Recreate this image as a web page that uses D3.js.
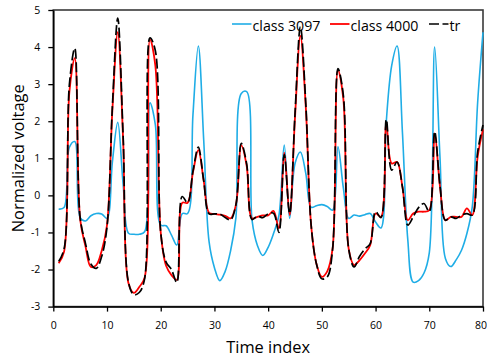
<!DOCTYPE html>
<html>
<head>
<meta charset="utf-8">
<script src="https://cdn.jsdelivr.net/npm/d3@7"></script>
<style>
  html, body { margin: 0; padding: 0; background: #fff; }
  svg { display: block; font-family: "Open Sans", sans-serif; }
</style>
</head>
<body>
<svg id="chart" width="487" height="358"></svg>
<script>
// ---- data ----
const timeIndex = d3.range(1, 81);
const seriesNames = ["class 3097", "class 4000", "tr"];
const class3097 = [
  -0.37, -0.33, 1.3, 1.45, -0.6, -0.69, -0.55, -0.49, -0.5, -0.62,
  0.9, 1.97, 0.3, -1.02, -1.05, -1.05, -0.98, 2.5, 1.9, -0.8,
  -0.82, -1.07, -1.34, -0.49, -0.49, 2.17, 4.03, 1.5, -1.25, -1.95,
  -2.3, -2.05, -1.5, -0.6, 2.75, 2.8, -0.67, -1.35, -1.62, -1.4,
  -1.03, -0.55, 1.36, -0.62, 0.86, 1.17, 0.6, -0.32, -0.28, -0.25,
  -0.3, -0.4, 1.31, 0.2, -0.62, -0.53, -0.56, -0.52, -0.49, -0.72,
  -0.88, 2.0, 3.5, 4.03, 1.7, -1.2, -2.34, -2.3, -2.1, -1.55,
  4.0, 1.0, -1.7, -1.92, -1.74, -1.48, -1.03, -0.31, 2.5, 4.4
];
const class4000 = [
  -1.83, -1.52, 2.8, 3.7, -0.65, -1.38, -1.93, -1.88, -1.5, -0.8,
  2.3, 4.4, 1.5, -2.37, -2.63, -2.47, -2.22, 4.2, 3.5, -1.0,
  -1.9, -2.15, -2.28, -0.2, -0.2, 0.62, 1.22, 0.4, -0.47, -0.5,
  -0.52, -0.55, -0.62, -0.26, 1.35, 0.8, -0.62, -0.58, -0.54, -0.54,
  -0.42, -0.89, 1.15, -0.53, 2.1, 4.3, 2.4, -0.8, -1.85, -2.2,
  -2.05, -1.43, 3.38, 2.6, -1.45, -1.88, -1.75, -1.57, -1.34, -0.49,
  -0.58, 1.94, 0.86, 0.9, 0.23, -0.67, -0.49, -0.44, -0.44, -0.4,
  1.67, 0.23, -0.67, -0.58, -0.58, -0.58, -0.35, -0.53, 1.04, 1.78
];
const tr = [
  -1.78, -1.45, 3.0, 3.97, -0.6, -1.3, -1.85, -1.97, -1.65, -0.85,
  2.4, 4.78, 1.6, -2.35, -2.68, -2.62, -2.25, 4.25, 3.9, -1.0,
  -1.8, -2.0, -2.35, -0.03, -0.2, 0.65, 1.3, 0.4, -0.5, -0.5,
  -0.5, -0.6, -0.66, -0.25, 1.4, 0.85, -0.65, -0.56, -0.6, -0.5,
  -0.48, -1.0, 1.1, -0.49, 2.2, 4.55, 2.5, -0.8, -1.85, -2.25,
  -2.2, -1.45, 3.42, 2.7, -1.45, -1.93, -1.65, -1.45, -1.3, -0.44,
  -0.6, 2.05, 0.68, 0.9, 0.23, -0.8, -0.58, -0.33, -0.22, -0.44,
  1.72, 0.25, -0.67, -0.58, -0.62, -0.53, -0.49, -0.53, 1.17, 1.9
];
const xTicks = [0, 10, 20, 30, 40, 50, 60, 70, 80];
const yTicks = [-3, -2, -1, 0, 1, 2, 3, 4, 5];
const xTitle = "Time index";
const yTitle = "Normalized voltage";

// ---- layout ----
const svg = d3.select("#chart");
const pLeft = 53.3, pRight = 483, pTop = 10, pBottom = 306.6;
const x = d3.scaleLinear().domain([0, 80]).range([pLeft, pRight]);
const y = d3.scaleLinear().domain([-3, 5]).range([pBottom, pTop]);

// plot frame
svg.append("rect")
  .attr("x", pLeft).attr("y", pTop)
  .attr("width", pRight - pLeft).attr("height", pBottom - pTop)
  .attr("fill", "none").attr("stroke", "#3a3a3a").attr("stroke-width", 1.6);

const line = d3.line()
  .x((d, i) => x(timeIndex[i]))
  .y(d => y(d))
  .curve(d3.curveCatmullRom.alpha(0.5));

const styles = [
  { data: class3097, color: "#1FADE6", width: 1.6, dash: null },
  { data: class4000, color: "#FF0000", width: 1.8, dash: null },
  { data: tr, color: "#000000", width: 1.7, dash: "10,3.5" }
];
styles.forEach(s => {
  svg.append("path")
    .attr("d", line(s.data))
    .attr("fill", "none")
    .attr("stroke", s.color)
    .attr("stroke-width", s.width)
    .attr("stroke-linejoin", "round")
    .attr("stroke-dasharray", s.dash);
});

// axes
const xAxis = d3.axisBottom(x).tickValues(xTicks).tickSize(5).tickSizeOuter(0)
  .tickPadding(10).tickFormat(d => String(d));
const yAxis = d3.axisLeft(y).tickValues(yTicks).tickSize(5).tickSizeOuter(0)
  .tickPadding(8).tickFormat(d => String(d));

const gx = svg.append("g").attr("transform", `translate(0,${pBottom})`).call(xAxis);
const gy = svg.append("g").attr("transform", `translate(${pLeft},0)`).call(yAxis);
[gx, gy].forEach(g => {
  g.select(".domain").attr("stroke", "#000").attr("stroke-width", 1.5);
  g.selectAll(".tick line").attr("stroke", "#000").attr("stroke-width", 1.3);
  g.selectAll(".tick text").attr("fill", "#000")
    .style("font-family", "'Open Sans', sans-serif").style("font-size", "10.5px");
});
// keep the last x label inside the picture
gx.selectAll(".tick text").filter(d => d === 80).attr("dx", "-2.5");

// axis titles
svg.append("text")
  .attr("x", (pLeft + pRight) / 2).attr("y", 353.4)
  .attr("text-anchor", "middle")
  .style("font-size", "16.4px").attr("fill", "#000")
  .text(xTitle);
svg.append("text")
  .attr("transform", `translate(23.5,${(pTop + pBottom) / 2}) rotate(-90)`)
  .attr("text-anchor", "middle")
  .style("font-size", "16.4px").attr("fill", "#000")
  .text(yTitle);

// legend
const legendItems = [
  { name: seriesNames[0], x0: 232, s: styles[0] },
  { name: seriesNames[1], x0: 330, s: styles[1] },
  { name: seriesNames[2], x0: 429, s: styles[2] }
];
legendItems.forEach(it => {
  svg.append("line")
    .attr("x1", it.x0).attr("x2", it.x0 + 19.5)
    .attr("y1", 24).attr("y2", 24)
    .attr("stroke", it.s.color).attr("stroke-width", it.s.width)
    .attr("stroke-dasharray", it.s.dash);
  svg.append("text")
    .attr("x", it.x0 + 20.5).attr("y", 30.5)
    .style("font-size", "14.2px").attr("fill", "#000")
    .text(it.name);
});
</script>
</body>
</html>
